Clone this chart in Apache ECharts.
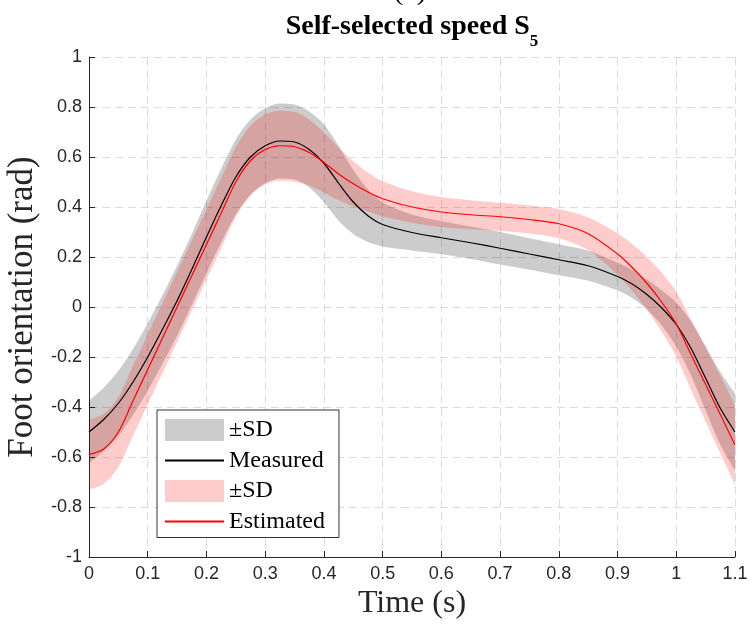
<!DOCTYPE html>
<html><head><meta charset="utf-8">
<script src="https://cdn.jsdelivr.net/npm/echarts@6/dist/echarts.min.js"></script>
<style>html,body{margin:0;padding:0;background:#fff}#c{width:751px;height:633px}</style>
</head><body><div id="c"></div>
<script>
const time = [0,0.025,0.05,0.075,0.1,0.125,0.15,0.175,0.2,0.225,0.25,0.275,0.3,0.325,0.35,0.375,0.4,0.425,0.45,0.475,0.5,0.55,0.6,0.65,0.7,0.75,0.8,0.85,0.9,0.925,0.95,0.975,1.0,1.025,1.05,1.075,1.1];
const measuredMean = [-0.500,-0.450,-0.385,-0.300,-0.200,-0.090,0.025,0.150,0.280,0.405,0.520,0.600,0.645,0.664,0.660,0.630,0.575,0.495,0.420,0.365,0.330,0.298,0.277,0.257,0.235,0.212,0.189,0.165,0.122,0.092,0.050,-0.003,-0.070,-0.165,-0.285,-0.405,-0.500];
const measuredSD = [0.125,0.127,0.130,0.132,0.135,0.137,0.140,0.142,0.145,0.147,0.150,0.150,0.150,0.150,0.150,0.152,0.156,0.150,0.128,0.105,0.088,0.072,0.066,0.065,0.065,0.063,0.062,0.060,0.056,0.056,0.060,0.070,0.088,0.108,0.128,0.145,0.155];
const estimatedMean = [-0.590,-0.568,-0.500,-0.375,-0.250,-0.125,0.000,0.125,0.250,0.375,0.500,0.585,0.630,0.645,0.641,0.618,0.578,0.532,0.493,0.460,0.433,0.400,0.380,0.369,0.361,0.350,0.333,0.293,0.212,0.158,0.095,0.020,-0.068,-0.190,-0.310,-0.430,-0.552];
const estimatedSD = [0.140,0.140,0.140,0.140,0.140,0.140,0.140,0.140,0.140,0.140,0.140,0.140,0.140,0.140,0.140,0.132,0.120,0.105,0.090,0.078,0.070,0.063,0.060,0.058,0.056,0.056,0.058,0.065,0.083,0.094,0.105,0.118,0.130,0.140,0.148,0.155,0.160];

// band tables: [value, time] with value first so that the stack applies to the value
const lowerRows = (m, s) => time.map((t, i) => [m[i] - s[i], t]);
const widthRows = (s) => time.map((t, i) => [2 * s[i], t]);
const pts = (m) => time.map((t, i) => [t, m[i]]);

const serif = '"Liberation Serif", "Times New Roman", serif';
const sans = '"Liberation Sans", Arial, sans-serif';
const axisCol = '#262626';
const greyFill = 'rgba(0,0,0,0.2)';
const redFill = 'rgba(255,0,0,0.2)';

const chart = echarts.init(document.getElementById('c'), null, {renderer: 'canvas'});
const bandBase = {type: 'line', smooth: 0.3, symbol: 'none', showSymbol: false, stackStrategy: 'all', silent: true,
  encode: {x: 1, y: 0}, lineStyle: {opacity: 0, width: 0}, emphasis: {disabled: true}};
chart.setOption({
  animation: false,
  backgroundColor: '#fff',
  title: {
    text: '{a|Self-selected speed S}{b|5}',
    left: 412, textAlign: 'center', top: 13, padding: 0,
    textStyle: {
      rich: {
        a: {fontFamily: serif, fontWeight: 'bold', fontSize: 28, color: '#000', lineHeight: 37, verticalAlign: 'top'},
        b: {fontFamily: serif, fontWeight: 'bold', fontSize: 17, color: '#000', lineHeight: 17, verticalAlign: 'bottom'}
      }
    }
  },
  graphic: [{type: 'text', x: 410, y: 6, silent: true, style: {text: '(a)', font: '30px ' + serif, fill: '#000', align: 'center', verticalAlign: 'bottom'}}],
  grid: {left: 89, right: 16, top: 57, bottom: 76, containLabel: false, outerBoundsMode: 'none'},
  legend: {
    orient: 'vertical', left: 157, top: 410,
    itemWidth: 59, itemHeight: 22, itemGap: 6.5,
    padding: [8, 14, 4, 7],
    backgroundColor: '#fff', borderColor: '#333', borderWidth: 1, borderRadius: 0,
    textStyle: {fontFamily: serif, fontSize: 24, color: '#000'},
    itemStyle: {opacity: 0},
    formatter: n => n.indexOf('sd') === 0 ? '\u00B1SD' : n,
    selectedMode: false,
    data: [
      {name: 'sdM', icon: 'rect', itemStyle: {color: greyFill, borderWidth: 0, opacity: 1}},
      {name: 'Measured'},
      {name: 'sdE', icon: 'rect', itemStyle: {color: redFill, borderWidth: 0, opacity: 1}},
      {name: 'Estimated'}
    ]
  },
  xAxis: {
    type: 'value', min: 0, max: 1.1, interval: 0.1,
    name: 'Time (s)', nameLocation: 'middle', nameGap: 28,
    nameTextStyle: {fontFamily: serif, fontSize: 32, color: axisCol},
    axisLine: {show: true, onZero: false, lineStyle: {color: axisCol, width: 1}},
    axisTick: {show: true, inside: true, length: 6, lineStyle: {color: axisCol}},
    axisLabel: {fontFamily: sans, fontSize: 18, color: axisCol, margin: 8},
    splitLine: {show: true, lineStyle: {type: [8, 5], color: '#dcdcdc', width: 1}}
  },
  yAxis: {
    type: 'value', min: -1, max: 1, interval: 0.2,
    name: 'Foot orientation (rad)', nameLocation: 'middle', nameGap: 43, nameRotate: 90,
    nameTextStyle: {fontFamily: serif, fontSize: 35, color: axisCol},
    axisLine: {show: true, onZero: false, lineStyle: {color: axisCol, width: 1}},
    axisTick: {show: true, inside: true, length: 6, lineStyle: {color: axisCol}},
    axisLabel: {fontFamily: sans, fontSize: 18, color: axisCol, margin: 7},
    splitLine: {show: true, lineStyle: {type: [8, 5], color: '#dcdcdc', width: 1}}
  },
  series: [
    Object.assign({}, bandBase, {name: 'mLow', stack: 'M', data: lowerRows(measuredMean, measuredSD)}),
    Object.assign({}, bandBase, {name: 'sdM', stack: 'M', data: widthRows(measuredSD), areaStyle: {color: greyFill, opacity: 1}}),
    Object.assign({}, bandBase, {name: 'eLow', stack: 'E', data: lowerRows(estimatedMean, estimatedSD)}),
    Object.assign({}, bandBase, {name: 'sdE', stack: 'E', data: widthRows(estimatedSD), areaStyle: {color: redFill, opacity: 1}}),
    {type: 'line', name: 'Measured', data: pts(measuredMean), smooth: 0.3, symbol: 'none', showSymbol: false, lineStyle: {color: '#000', width: 1.2}, itemStyle: {color: '#000'}, emphasis: {disabled: true}},
    {type: 'line', name: 'Estimated', data: pts(estimatedMean), smooth: 0.3, symbol: 'none', showSymbol: false, lineStyle: {color: '#ff0000', width: 1.2}, itemStyle: {color: '#ff0000'}, emphasis: {disabled: true}}
  ]
});
</script>
</body></html>
